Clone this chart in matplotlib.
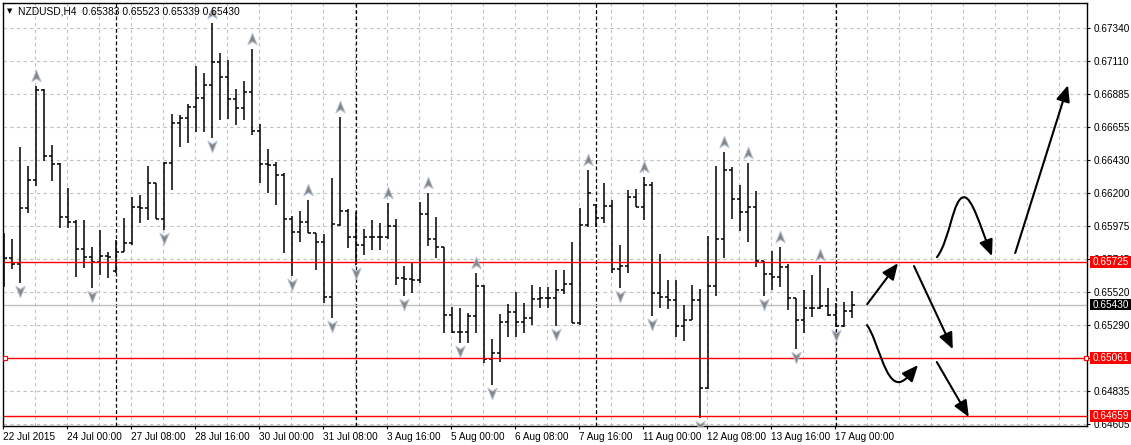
import matplotlib
matplotlib.use("Agg")
import matplotlib.pyplot as plt
import numpy as np
from matplotlib.path import Path
from matplotlib.patches import FancyArrowPatch, Rectangle

symbol = "NZDUSD,H4"

# H4 bars, prices in points (1 point = 0.00001)
opens = [65806, 65751, 65710, 66096, 66290, 66911, 66455, 66400, 66034, 66000,
         65813, 65758, 65723, 65765, 65661, 65792, 65855, 66103, 66096, 66269,
         66020, 66407, 66683, 66718, 66794, 66856, 66946, 67105, 67001, 66849,
         66787, 66898, 66628, 66400, 66393, 66324, 66020, 65931, 66000, 65924,
         65861, 65482, 65979, 66076, 65896, 65841, 65896, 65896, 65896, 65972,
         65613, 65606, 65599, 66055, 65882, 65827, 65357, 65240, 65240, 65350,
         65558, 65053, 65095, 65309, 65378, 65309, 65337, 65468, 65475, 65475,
         65530, 65571, 65302, 65979, 66117, 66027, 66110, 65675, 65696, 66172,
         66103, 66255, 65509, 65482, 65461, 65281, 65323, 65461, 64853, 65558,
         65882, 66359, 66159, 66069, 66103, 65730, 65641, 65620, 65689, 65475,
         65323, 65406, 65406, 65420, 65357, 65281, 65383]
highs = [65924, 65882, 66518, 66386, 66939, 66918, 66532, 66407, 66235, 66013,
         66013, 65827, 65944, 65792, 65875, 66027, 66172, 66186, 66386, 66269,
         66414, 66746, 66739, 66815, 67077, 67029, 67374, 67167, 67119, 66918,
         66974, 67195, 66677, 66504, 66414, 66338, 66041, 66076, 66152, 65924,
         65917, 66304, 66725, 66089, 66069, 65951, 66013, 65993, 66131, 66020,
         65696, 65723, 66138, 66200, 66034, 65827, 65413, 65406, 65371, 65647,
         65565, 65191, 65364, 65433, 65516, 65440, 65565, 65551, 65551, 65668,
         65668, 65861, 66096, 66359, 66117, 66269, 66152, 65841, 66221, 66228,
         66311, 66276, 65779, 65599, 65599, 65426, 65565, 65537, 65903, 66386,
         66483, 66380, 66255, 66407, 66214, 65730, 65799, 65827, 65710, 65475,
         65530, 65634, 65703, 65544, 65440, 65447, 65523]
lows = [65551, 65675, 65578, 66062, 66248, 66421, 66283, 65958, 65958, 65620,
        65682, 65544, 65634, 65613, 65647, 65792, 65841, 65993, 66013, 66020,
        65944, 66221, 66518, 66545, 66621, 66621, 66580, 66704, 66711, 66670,
        66704, 66601, 66269, 66200, 66117, 65786, 65627, 65861, 65924, 65668,
        65440, 65337, 65972, 65820, 65703, 65772, 65806, 65806, 65882, 65565,
        65489, 65509, 65578, 65834, 65751, 65233, 65233, 65164, 65164, 65233,
        65026, 64874, 65033, 65205, 65205, 65233, 65288, 65406, 65406, 65281,
        65502, 65302, 65288, 65965, 65965, 65993, 65647, 65544, 65647, 66103,
        66013, 65350, 65406, 65399, 65205, 65178, 65323, 64646, 64846, 65489,
        65751, 66020, 65937, 65861, 65689, 65489, 65530, 65551, 65392, 65122,
        65233, 65343, 65399, 65350, 65274, 65274, 65339]
closes = [65751, 65710, 66096, 66290, 66911, 66455, 66400, 66034, 66000, 65813,
          65758, 65723, 65765, 65758, 65792, 65855, 66103, 66096, 66269, 66020,
          66407, 66683, 66718, 66794, 66856, 66946, 67105, 67001, 66849, 66787,
          66898, 66628, 66400, 66393, 66324, 66020, 65931, 66000, 65924, 65861,
          65482, 65986, 66076, 65896, 65841, 65896, 65896, 65896, 65972, 65613,
          65606, 65599, 66055, 65882, 65827, 65357, 65240, 65240, 65350, 65558,
          65053, 65095, 65309, 65378, 65309, 65337, 65468, 65475, 65475, 65530,
          65571, 65302, 65979, 66200, 66027, 66110, 65675, 65696, 66172, 66103,
          66255, 65509, 65482, 65461, 65281, 65323, 65461, 64853, 65558, 65882,
          66359, 66159, 66069, 66103, 65730, 65641, 65620, 65689, 65475, 65323,
          65406, 65406, 65420, 65357, 65281, 65383, 65430]

date_labels = ["22 Jul 2015", "24 Jul 00:00", "27 Jul 08:00", "28 Jul 16:00",
               "30 Jul 00:00", "31 Jul 08:00", "3 Aug 16:00", "5 Aug 00:00",
               "6 Aug 08:00", "7 Aug 16:00", "11 Aug 00:00", "12 Aug 08:00",
               "13 Aug 16:00", "17 Aug 00:00"]
week_starts = [14, 44, 74, 104]

fractal_up = [4, 26, 31, 38, 42, 48, 53, 59, 73, 80, 90, 93, 97, 102]
fractal_down = [2, 11, 20, 26, 36, 41, 44, 50, 57, 61, 69, 77, 81, 87, 95, 99, 104]

levels = [65725, 65061, 64659]
price_ticks = [0.67340, 0.67110, 0.66885, 0.66655, 0.66430, 0.66200, 0.65975,
               0.65745, 0.65520, 0.65290, 0.65060, 0.64835, 0.64605]

# hand drawn arrows: (bar index, price in points)
straight_arrows = [((107.9, 65433), (111.75, 65716)),
                   ((113.75, 65696), (118.6, 65122)),
                   ((116.6, 65033), (120.6, 64653)),
                   ((126.4, 65786), (133.0, 66946))]
curved_arrows = [
    [(107.875, 65288), (109.25, 65185), (110.125, 64874), (112.0, 64895),
     (112.875, 64908), (113.5, 64964), (114.25, 65012)],
    [(116.625, 65758), (118.25, 65875), (118.625, 66172), (120.0, 66172),
     (121.0, 66172), (122.0, 65979), (123.5, 65765)],
]

o = np.array(opens) / 1e5
h = np.array(highs) / 1e5
l = np.array(lows) / 1e5
c = np.array(closes) / 1e5
idx = np.arange(len(o))
last = c[-1]

plt.rcParams['font.family'] = ['Liberation Sans', 'DejaVu Sans']
W, H = 1131, 445
fig = plt.figure(figsize=(W / 100, H / 100), dpi=100)
ax = fig.add_axes([3 / W, 1 - 426 / H, 1084 / W, 423 / H])
ax.set_xlim(-0.125, 135.375)
ax.set_ylim(0.64591, 0.67514)

# grid
for p in price_ticks:
    ax.axhline(p, color='#c0c0c0', lw=0.8, ls=(0, (3, 3)), zorder=0.5)
for g in np.arange(4, 136, 4) - 0.125:
    ax.axvline(g, color='#c0c0c0', lw=0.8, ls=(0, (3, 3)), zorder=0.5)
for w in week_starts:
    ax.axvline(w, color='black', lw=0.9, ls=(0, (3, 2)), zorder=1)

ax.axhline(last, color='#c0c0c0', lw=1.0, zorder=1)

# OHLC bars
ax.vlines(idx, l, h, color='black', lw=1.1, zorder=2)
ax.hlines(o, idx - 0.42, idx, color='black', lw=1.1, zorder=2)
ax.hlines(c, idx, idx + 0.42, color='black', lw=1.1, zorder=2)

for lv in levels:
    ax.axhline(lv / 1e5, color='red', lw=1.0, zorder=2.5)
ax.plot([0.17, 135.25], [levels[1] / 1e5] * 2, ls='none', marker='s', ms=3,
        mfc='white', mec='red', mew=0.8, zorder=3, clip_on=False)

# fractals
up_mk = Path([(0, 1), (0.75, -0.85), (0, -0.35), (-0.75, -0.85), (0, 1)],
             [Path.MOVETO, Path.LINETO, Path.LINETO, Path.LINETO, Path.CLOSEPOLY])
dn_mk = Path([(0, -1), (0.75, 0.85), (0, 0.35), (-0.75, 0.85), (0, -1)],
             [Path.MOVETO, Path.LINETO, Path.LINETO, Path.LINETO, Path.CLOSEPOLY])
fu = np.array(fractal_up)
fd = np.array(fractal_down)
ax.scatter(fu, h[fu] + 0.00069, marker=up_mk, s=80, c='#858585',
           edgecolors='#b8c2d4', linewidths=0.7, zorder=3)
ax.scatter(fd, l[fd] - 0.00052, marker=dn_mk, s=80, c='#858585',
           edgecolors='#b8c2d4', linewidths=0.7, zorder=3)

# drawn arrows
style = '-|>,head_length=0.7,head_width=0.3'
for (x0, y0), (x1, y1) in straight_arrows:
    ax.add_patch(FancyArrowPatch((x0, y0 / 1e5), (x1, y1 / 1e5), arrowstyle=style,
                                 mutation_scale=14, lw=1.5, color='black',
                                 shrinkA=0, shrinkB=0, zorder=4))
for pts in curved_arrows:
    verts = [(x, y / 1e5) for x, y in pts]
    codes = [Path.MOVETO] + [Path.CURVE4] * (len(verts) - 1)
    ax.add_patch(FancyArrowPatch(path=Path(verts, codes), arrowstyle=style,
                                 mutation_scale=14, lw=1.5, color='black', zorder=4))

# axes and ticks
for s in ax.spines.values():
    s.set_color('black')
    s.set_linewidth(1.0)
ax.yaxis.tick_right()
ax.set_yticks(price_ticks)
ax.set_yticklabels([f"{p:.5f}" for p in price_ticks])
ax.set_xticks(np.arange(len(date_labels)) * 8 - 0.1)
ax.set_xticklabels(date_labels)
for t in ax.get_xticklabels():
    t.set_ha('left')
ax.tick_params(axis='both', length=2.2, width=0.8, labelsize=7.2, color='black')
ax.tick_params(axis='y', pad=2.5)
ax.tick_params(axis='x', pad=2)

# price labels on the right scale
trans = ax.get_yaxis_transform()


def price_box(val, face):
    ax.add_patch(Rectangle((1.0028, val - 0.00040), 0.0378, 0.00080, transform=trans,
                           facecolor=face, edgecolor='none', clip_on=False, zorder=5))
    ax.text(1.0055, val, f"{val:.5f}", transform=trans, color='white', fontsize=7.2,
            va='center', ha='left', zorder=6, clip_on=False)


for lv in levels:
    price_box(lv / 1e5, 'red')
price_box(last, 'black')

# header
fig.text(7 / W, 1 - 11 / H, "\u25bc", fontsize=5, va='center', ha='left',
         family='DejaVu Sans')
fig.text(18 / W, 1 - 11 / H,
         f"{symbol}  {o[-1]:.5f} {h[-1]:.5f} {l[-1]:.5f} {c[-1]:.5f}",
         fontsize=7.4, va='center', ha='left')

fig.savefig('out.png', dpi=100)
